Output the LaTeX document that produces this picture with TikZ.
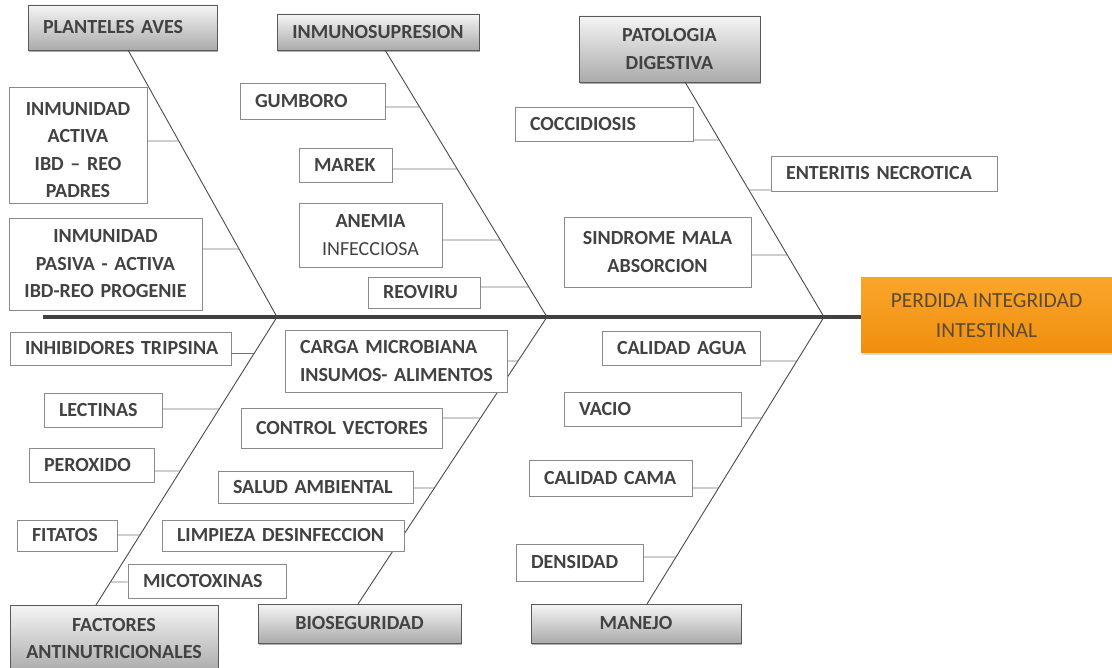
\documentclass[tikz,border=0pt]{standalone}
\usepackage{fontspec}
\setmainfont{Carlito}
\usetikzlibrary{calc,shadows}
\definecolor{txt}{HTML}{424242}
\definecolor{boxline}{HTML}{8A8A8A}
\definecolor{bonec}{HTML}{4A4A4A}
\definecolor{orgtop}{HTML}{F9A62B}
\definecolor{orgbot}{HTML}{F08E0E}
\definecolor{orgtxt}{HTML}{5C4A36}
\begin{document}
\begin{tikzpicture}[x=1pt,y=-1pt,
  cbox/.style={draw=boxline, line width=0.9pt, fill=white, text=txt,
    font=\fontsize{20}{27.5}\selectfont\bfseries, inner xsep=15pt, inner ysep=0pt, align=left},
  sbox/.style={cbox, execute at begin node=\hbox\bgroup, execute at end node=\egroup},
  ccbox/.style={cbox, inner xsep=4pt, align=center},
  hbox/.style={draw=black!65, line width=0.8pt, top color=black!4, bottom color=black!33,
    text=txt, font=\fontsize{20}{27.5}\selectfont\bfseries, inner xsep=4pt, inner ysep=0pt,
    align=center, drop shadow={shadow xshift=1pt, shadow yshift=-2pt, opacity=0.45, fill=black!70}},
  orgbox/.style={draw=none, top color=orgtop, bottom color=orgbot, text=orgtxt,
    font=\fontsize{21.5}{30}\selectfont, inner sep=0pt, align=center,
    drop shadow={shadow xshift=1pt, shadow yshift=-2pt, opacity=0.25, fill=black!60}},
  bone/.style={draw=bonec, line width=0.9pt},
  spine/.style={draw=black!75, line width=3.6pt},
  conn/.style={draw=black!55, line width=0.9pt}]
\useasboundingbox (0,0) rectangle (1112,668);

% headers
\node[hbox, inner xsep=15pt, align=left, text width=159pt, minimum height=45pt] (planteles) at (122.5,27.5) {\mbox{PLANTELES AVES}};
\node[hbox, text width=194pt, minimum height=36pt] (inmuno) at (378,32) {INMUNOSUPRESION};
\node[hbox, text width=173pt, minimum height=66pt] (patologia) at (669.5,49) {PATOLOGIA\\DIGESTIVA};
\node[hbox, text width=200pt, minimum height=67pt] (factores) at (114,638.5) {FACTORES\\ANTINUTRICIONALES};
\node[hbox, text width=195pt, minimum height=39pt] (bioseg) at (359.5,623.5) {BIOSEGURIDAD};
\node[hbox, text width=202pt, minimum height=39pt] (manejo) at (636,623.5) {MANEJO};

% effect
\node[orgbox, minimum width=251pt, minimum height=75pt] (org) at (986.5,315.5) {PERDIDA INTEGRIDAD\\INTESTINAL};

% bone coordinates
\coordinate (t1) at (128,50);  \coordinate (s1) at (277,317);
\coordinate (t2) at (385,50);  \coordinate (s2) at (547,317);
\coordinate (t3) at (685,82);  \coordinate (s3) at (824,317);
\coordinate (b1) at (96,605);  \coordinate (b2) at (358,604);  \coordinate (b3) at (647,604);
\coordinate (sp0) at (43,317);

\draw[spine] (sp0) -- (org.west |- sp0);
\draw[bone] (t1) -- (s1) -- (b1);
\draw[bone] (t2) -- (s2) -- (b2);
\draw[bone] (t3) -- (s3) -- (b3);

% cause boxes
\node[ccbox, text width=130pt, minimum height=116pt] (inmact) at (78,145) {\\[-4pt]INMUNIDAD\\ACTIVA\\\mbox{IBD – REO}\\PADRES};
\node[ccbox, text width=185pt, minimum height=92pt] (inmpas) at (105.5,264) {INMUNIDAD\\\mbox{PASIVA - ACTIVA}\\\mbox{IBD-REO PROGENIE}};
\node[sbox, text width=115pt, minimum height=36pt] (gumboro) at (312.5,101) {GUMBORO};
\node[sbox, text width=63pt, minimum height=34pt] (marek) at (345.5,165) {MAREK};
\node[ccbox, text width=135pt, minimum height=64pt] (anemia) at (370.5,235) {ANEMIA\\{\mdseries INFECCIOSA}};
\node[sbox, text width=82pt, minimum height=31pt] (reoviru) at (424,292.5) {REOVIRU};
\node[sbox, text width=148pt, minimum height=34pt] (cocci) at (604,124) {COCCIDIOSIS};
\node[sbox, text width=196pt, minimum height=35pt] (enteritis) at (884,173.5) {ENTERITIS NECROTICA};
\node[ccbox, text width=179pt, minimum height=70pt] (sindrome) at (657.5,252) {\mbox{SINDROME MALA}\\ABSORCION};
\node[sbox, text width=191pt, minimum height=33pt] (inhib) at (120.5,348.5) {INHIBIDORES TRIPSINA};
\node[sbox, text width=88pt, minimum height=34pt] (lectinas) at (103,410) {LECTINAS};
\node[sbox, text width=95pt, minimum height=34pt] (peroxido) at (91.5,465) {PEROXIDO};
\node[sbox, text width=70pt, minimum height=31pt] (fitatos) at (67,535.5) {FITATOS};
\node[sbox, text width=128pt, minimum height=34pt] (micotox) at (207,581) {MICOTOXINAS};
\node[cbox, text width=192pt, minimum height=62pt] (carga) at (396,361) {\mbox{CARGA MICROBIANA}\\\mbox{INSUMOS- ALIMENTOS}};
\node[sbox, text width=171pt, minimum height=40pt] (control) at (341.5,428) {CONTROL VECTORES};
\node[sbox, text width=165pt, minimum height=32pt] (salud) at (315.5,487) {SALUD AMBIENTAL};
\node[sbox, text width=212pt, minimum height=31pt] (limpieza) at (283,535.5) {LIMPIEZA DESINFECCION};
\node[sbox, text width=128pt, minimum height=34pt] (agua) at (681,348) {CALIDAD AGUA};
\node[sbox, text width=147pt, minimum height=34pt] (vacio) at (652.5,409) {VACIO};
\node[sbox, text width=133pt, minimum height=36pt] (cama) at (610.5,478) {CALIDAD CAMA};
\node[sbox, text width=97pt, minimum height=37pt] (densidad) at (579.5,562.5) {DENSIDAD};

% connectors: node/side/y/bone-start/bone-end/y-start/y-end
\foreach \n/\sd/\yy/\ba/\bb/\ya/\yb in {
  inmact/east/141/t1/s1/50/317, inmpas/east/249/t1/s1/50/317,
  gumboro/east/107/t2/s2/50/317, marek/east/169/t2/s2/50/317,
  anemia/east/240/t2/s2/50/317, reoviru/east/287/t2/s2/50/317,
  cocci/east/140/t3/s3/82/317, enteritis/west/190/t3/s3/82/317,
  sindrome/east/255/t3/s3/82/317,
  inhib/east/353/s1/b1/317/605, lectinas/east/409/s1/b1/317/605,
  peroxido/east/471/s1/b1/317/605, fitatos/east/535/s1/b1/317/605,
  micotox/west/582/s1/b1/317/605,
  carga/east/361/s2/b2/317/604, control/east/418/s2/b2/317/604,
  salud/east/488/s2/b2/317/604, limpieza/east/533/s2/b2/317/604,
  agua/east/361/s3/b3/317/604, vacio/east/418/s3/b3/317/604,
  cama/east/488/s3/b3/317/604, densidad/east/557/s3/b3/317/604}
  \draw[conn] (\n.\sd |- 0,\yy) -- ($(\ba)!{(\yy-\ya)/(\yb-\ya)}!(\bb)$);
\end{tikzpicture}
\end{document}
